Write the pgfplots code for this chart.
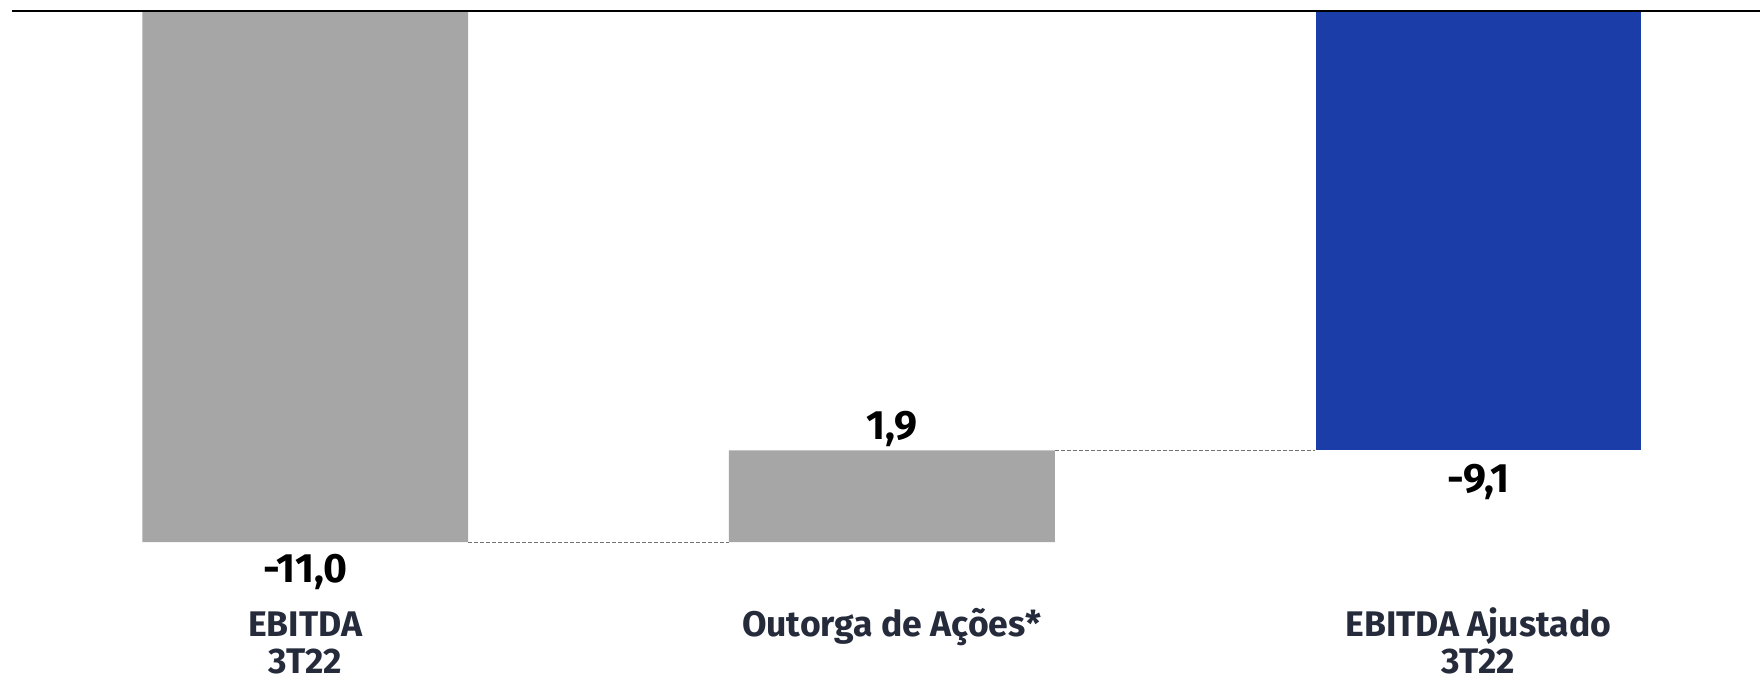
\documentclass[border=0pt]{standalone}
\usepackage{pgfplots}
\pgfplotsset{compat=1.18}
\usepackage{fontspec}
\setmainfont{Fira Sans}
\definecolor{bargray}{HTML}{A6A6A6}
\definecolor{barblue}{HTML}{1A3DA8}
\definecolor{labcol}{HTML}{252B3A}
\begin{document}
\begin{tikzpicture}
\begin{axis}[
  scale only axis,
  width=874.5pt, height=335pt,
  xmin=-0.5, xmax=2.48,
  ymin=-13.87, ymax=0,
  axis lines=none,
  clip=false,
  ybar stacked,
  stack negative=on previous,
  bar width=163pt,
]
\addplot[draw=none, fill=none] coordinates {(0,0) (1,-11) (2,0)};
\addplot[draw=none, fill=bargray] coordinates {(0,-11) (1,1.9) (2,0)};
\addplot[draw=none, fill=barblue] coordinates {(0,0) (1,0) (2,-9.1)};
\end{axis}
\begin{axis}[
  scale only axis,
  width=874.5pt, height=335pt,
  xmin=-0.5, xmax=2.48,
  ymin=-13.87, ymax=0,
  axis lines=none,
  clip=false,
]
\addplot[dash pattern=on 2pt off 1pt, black!55, line width=0.5pt] coordinates {(0.278,-11) (0.722,-11)};
\addplot[dash pattern=on 2pt off 1pt, black!55, line width=0.5pt] coordinates {(1.278,-9.1) (1.722,-9.1)};
\addplot[black, line width=1pt] coordinates {(-0.5,0) (2.48,0)};
\node[anchor=base, inner sep=0, font=\fontsize{20.5}{24}\selectfont\bfseries] at (axis cs:0,-11.84) {-11,0};
\node[anchor=base, inner sep=0, font=\fontsize{20.5}{24}\selectfont\bfseries] at (axis cs:1,-8.88) {1,9};
\node[anchor=base, inner sep=0, font=\fontsize{20.5}{24}\selectfont\bfseries] at (axis cs:2,-9.98) {-9,1};
\node[anchor=base, inner sep=0, text=labcol, font=\fontsize{17.8}{20}\selectfont\bfseries] at (axis cs:0,-12.95) {EBITDA};
\node[anchor=base, inner sep=0, text=labcol, font=\fontsize{17.8}{20}\selectfont\bfseries] at (axis cs:0,-13.73) {3T22};
\node[anchor=base, inner sep=0, text=labcol, font=\fontsize{17.8}{20}\selectfont\bfseries] at (axis cs:1,-12.95) {Outorga de Ações*};
\node[anchor=base, inner sep=0, text=labcol, font=\fontsize{17.8}{20}\selectfont\bfseries] at (axis cs:2,-12.95) {EBITDA Ajustado};
\node[anchor=base, inner sep=0, text=labcol, font=\fontsize{17.8}{20}\selectfont\bfseries] at (axis cs:2,-13.73) {3T22};
\end{axis}
\path ([xshift=-6pt]current axis.south west) rectangle ([yshift=5.5pt]current axis.north east);
\end{tikzpicture}
\end{document}
